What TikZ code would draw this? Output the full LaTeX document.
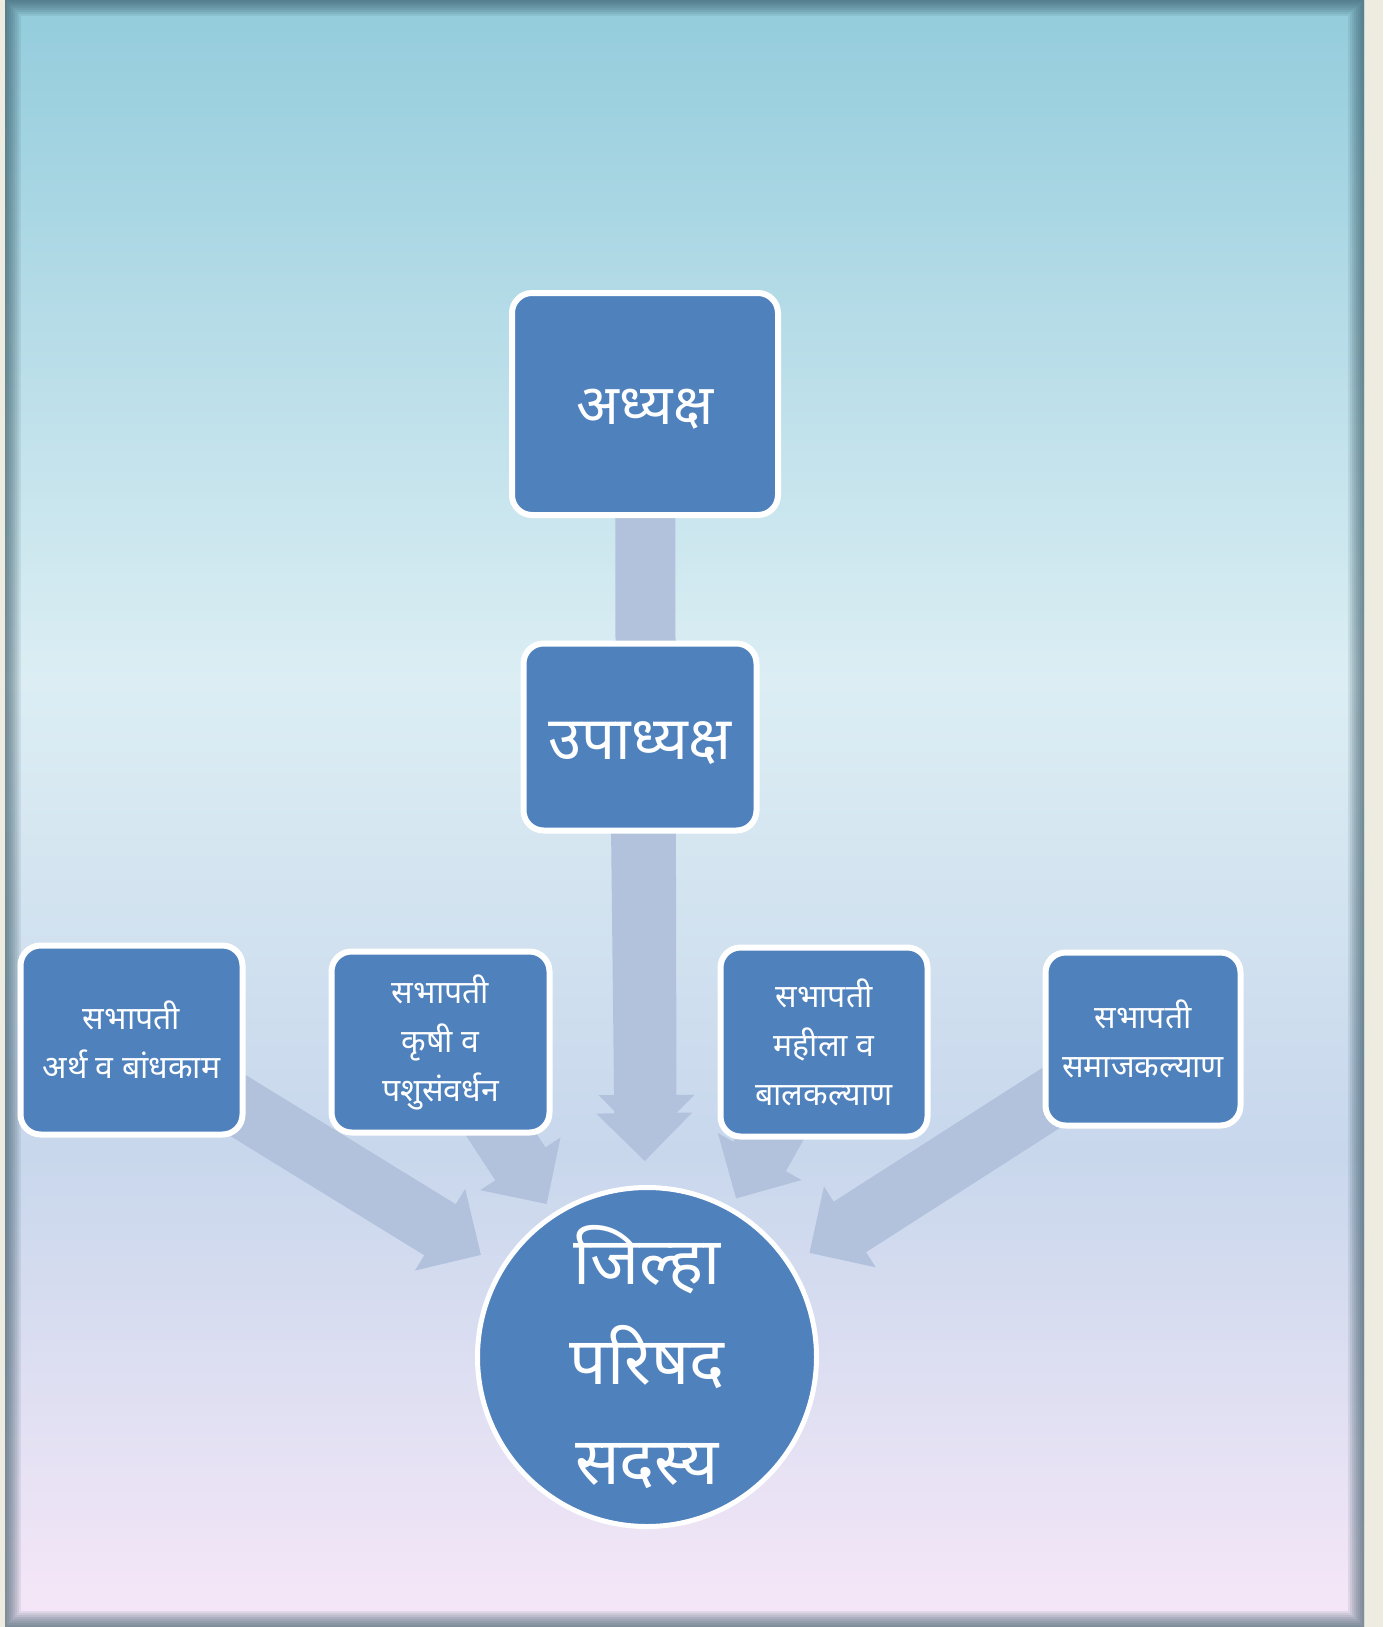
\documentclass[tikz,border=0pt]{standalone}
\usepackage{fontspec}
\newfontfamily\deva[Script=Devanagari]{Noto Sans}
\usetikzlibrary{calc}

\definecolor{boxblue}{HTML}{4F81BD}
\definecolor{arrowblue}{HTML}{B2C2DC}
\definecolor{pageside}{HTML}{EEEBE0}
\definecolor{skytop}{HTML}{93CCDC}
\definecolor{skymid}{HTML}{DCEEF4}
\definecolor{skylow}{HTML}{C8D7EC}
\definecolor{skybottom}{HTML}{F6E7F8}
\definecolor{rimshade}{HTML}{2F4F5C}

\pgfdeclarelayer{panel}
\pgfdeclarelayer{arrows}
\pgfsetlayers{panel,arrows,main}

\begin{document}
\begin{tikzpicture}[
    x=0.5pt, y=-0.5pt,
    every node/.style={text=white, font=\deva},
    unit box/.style={draw=white, line width=3pt, fill=boxblue, rounded corners=10pt, inner sep=0pt, align=center},
    chair box/.style={unit box, font=\deva\fontsize{16}{24.5}\selectfont},
    head box/.style={unit box, font=\deva\fontsize{28}{34}\selectfont},
    member circle/.style={circle, draw=white, line width=2.5pt, fill=boxblue, inner sep=0pt, align=center, font=\deva\fontsize{33}{50}\selectfont},
    fat arrow/.style={fill=arrowblue}
]
    % Page and background
    \useasboundingbox (0,0) rectangle (1383,1627);
    \begin{pgfonlayer}{panel}
    \fill[pageside] (0,0) rectangle (1383,1627);
    \begin{scope}
        \clip (5,0) rectangle (1364,1627);
        \shade[top color=skytop, bottom color=skymid] (5,0) rectangle (1364,681);
        \shade[top color=skymid, bottom color=skylow] (5,680) rectangle (1364,1151);
        \shade[top color=skylow, bottom color=skybottom] (5,1150) rectangle (1364,1627);
        \foreach \w in {2,4,...,16}
            \draw[rimshade, opacity=0.1, line width=\w pt] (5,0) rectangle (1364,1627);
    \end{scope}
    \end{pgfonlayer}

    % Fat arrow from a box centre to a tip
    \newcommand{\fatarrow}[2]{%
        \coordinate (headbase) at ($(#2)!24pt!(#1.center)$);
        \fill[fat arrow] ($(#1.center)!15pt!90:(#2)$) -- ($(headbase)!15pt!90:(#2)$)
            -- ($(headbase)!24pt!90:(#2)$) -- (#2)
            -- ($(headbase)!24pt!-90:(#2)$) -- ($(headbase)!15pt!-90:(#2)$)
            -- ($(#1.center)!15pt!-90:(#2)$) -- cycle;
    }

    % Officers
    \node[head box, minimum width=133pt, minimum height=111pt] (top) at (645,404) {\raisebox{-2.5pt}[\height][\depth]{अध्यक्ष}};
    \node[head box, minimum width=116.5pt, minimum height=93.5pt, font=\deva\fontsize{30}{34}\selectfont] (mid) at (640,737) {\raisebox{-3pt}[\height][\depth]{उपाध्यक्ष}};

    % Committee chairs
    \node[chair box, minimum width=111pt, minimum height=94.5pt] (b1) at (131.5,1040) {सभापती\\अर्थ व बांधकाम};
    \node[chair box, minimum width=109pt, minimum height=90.5pt] (b2) at (440.5,1042) {सभापती\\कृषी व\\पशुसंवर्धन};
    \node[chair box, minimum width=103.5pt, minimum height=94.5pt] (b3) at (824,1042) {सभापती\\महीला व\\बालकल्याण};
    \node[chair box, minimum width=97.5pt, minimum height=86.5pt] (b4) at (1143,1039) {सभापती\\समाजकल्याण};

    % Members
    \node[member circle, minimum size=169.5pt] (zp) at (647,1357) {जिल्हा\\परिषद\\सदस्य};

    % Arrow tips
    \coordinate (tip0) at ($(zp.center)!107pt!(top.center)$);
    \coordinate (tipm) at ($(zp.center)!98pt!(mid.center)$);
    \coordinate (tip1) at ($(zp.center)!97.5pt!(b1.center)$);
    \coordinate (tip2) at ($(zp.center)!91.5pt!(b2.center)$);
    \coordinate (tip3) at ($(zp.center)!91pt!(b3.center)$);
    \coordinate (tip4) at ($(zp.center)!96.5pt!(b4.center)$);

    % Arrows
    \begin{pgfonlayer}{arrows}
    \fatarrow{top}{tip0}
    \fatarrow{mid}{tipm}
    \fatarrow{b1}{tip1}
    \fatarrow{b2}{tip2}
    \fatarrow{b3}{tip3}
    \fatarrow{b4}{tip4}
    \end{pgfonlayer}
\end{tikzpicture}
\end{document}
